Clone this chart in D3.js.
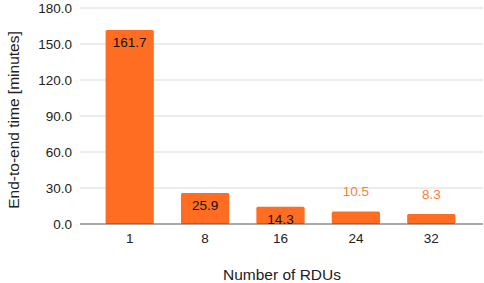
<!DOCTYPE html>
<html>
<head>
<meta charset="utf-8">
<script src="https://cdn.jsdelivr.net/npm/d3@7"></script>
<style>
  body { margin: 0; background: #fff; }
  text { font-family: "Liberation Sans", Arial, sans-serif; }
</style>
</head>
<body>
<div id="chart"></div>
<script>
// data
const categories = ["1", "8", "16", "24", "32"];
const values = [161.7, 25.9, 14.3, 10.5, 8.3];
const labelInside = [true, true, true, false, false];
const yTicks = [0, 30, 60, 90, 120, 150, 180];

const W = 484, H = 283;
const svg = d3.select("#chart").append("svg").attr("width", W).attr("height", H);

const x = d3.scaleBand().domain(categories).range([92, 469]).paddingInner(0.36).paddingOuter(0.18);
const y = d3.scaleLinear().domain([0, 180]).range([224, 8]);

// gridlines
svg.append("g").selectAll("line").data(yTicks.slice(1)).join("line")
  .attr("x1", 80).attr("x2", 483)
  .attr("y1", d => y(d)).attr("y2", d => y(d))
  .attr("stroke", "#d9d9d9").attr("stroke-width", 1);

// y labels
svg.append("g").selectAll("text").data(yTicks).join("text")
  .attr("x", 72).attr("y", d => y(d)).attr("dy", "0.35em")
  .attr("text-anchor", "end").attr("font-size", 13.5).attr("fill", "#222")
  .text(d => d.toFixed(1));

// bars
svg.append("g").selectAll("rect").data(values).join("rect")
  .attr("x", (d, i) => x(categories[i]))
  .attr("width", x.bandwidth())
  .attr("y", d => y(d))
  .attr("height", d => y(0) - y(d))
  .attr("rx", 1.5)
  .attr("fill", "#ff6d22");

// baseline
svg.append("line").attr("x1", 80).attr("x2", 483).attr("y1", y(0)).attr("y2", y(0))
  .attr("stroke", "#555").attr("stroke-width", 1);

// value labels
svg.append("g").selectAll("text").data(values).join("text")
  .attr("x", (d, i) => x(categories[i]) + x.bandwidth() / 2)
  .attr("y", (d, i) => labelInside[i] ? y(d) + 12 : y(d) - 20)
  .attr("dy", "0.35em")
  .attr("text-anchor", "middle").attr("font-size", 13.5)
  .attr("fill", (d, i) => labelInside[i] ? "#111" : "#ff7b33")
  .text(d => d.toFixed(1));

// x tick labels
svg.append("g").selectAll("text").data(categories).join("text")
  .attr("x", d => x(d) + x.bandwidth() / 2).attr("y", 238).attr("dy", "0.35em")
  .attr("text-anchor", "middle").attr("font-size", 13.5).attr("fill", "#222")
  .text(d => d);

// axis titles
svg.append("text").attr("x", 282).attr("y", 275).attr("dy", "0.35em")
  .attr("text-anchor", "middle").attr("font-size", 15.5).attr("fill", "#222")
  .text("Number of RDUs");
svg.append("text").attr("transform", "translate(14,120) rotate(-90)").attr("dy", "0.35em")
  .attr("text-anchor", "middle").attr("font-size", 15.5).attr("fill", "#222")
  .text("End-to-end time [minutes]");
</script>
</body>
</html>
